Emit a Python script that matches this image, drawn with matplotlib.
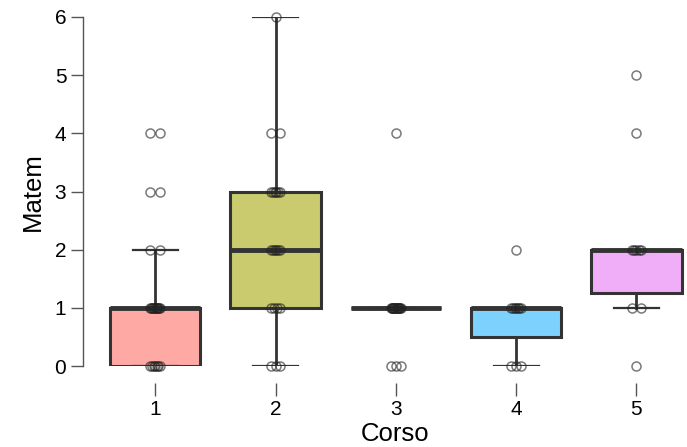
import matplotlib.pyplot as plt
import numpy as np

plt.rcParams['font.family'] = ['Liberation Sans', 'DejaVu Sans']

# scores per course
corso = [1, 2, 3, 4, 5]
matem_1 = [0] * 7 + [1] * 12 + [2] * 2 + [3] * 2 + [4] * 2
matem_2 = [0] * 3 + [1] * 4 + [2] * 6 + [3] * 6 + [4] * 2 + [6]
matem_3 = [0] * 3 + [1] * 15 + [4]
matem_4 = [0] * 3 + [1] * 7 + [2]
matem_5 = [0] + [1] * 2 + [2] * 5 + [4] + [5]
groups = [matem_1, matem_2, matem_3, matem_4, matem_5]
colors = ['#FFA9A5', '#C9CB6E', '#72D99C', '#7CD2FD', '#F1AEF8']

fig = plt.figure(figsize=(6.87, 4.47), dpi=100)
ax = fig.add_axes([83 / 687, 81 / 447, 604 / 687, 349 / 447])

bp = ax.boxplot(groups, positions=corso, widths=0.75, patch_artist=True,
                showfliers=False, capwidths=0.375, whis=1.5,
                boxprops=dict(edgecolor='#333333', linewidth=2.2),
                medianprops=dict(color='#333333', linewidth=3.5),
                whiskerprops=dict(color='#333333', linewidth=2),
                capprops=dict(color='#333333', linewidth=1.6))
for patch, c in zip(bp['boxes'], colors):
    patch.set_facecolor(c)

# jittered data points (fixed offsets, no randomness)
for pos, vals in zip(corso, groups):
    vals = np.array(vals)
    for v in np.unique(vals):
        k = np.sum(vals == v)
        offs = np.linspace(-0.04, 0.04, k) if k > 1 else np.array([0.0])
        ax.plot(pos + offs, [v] * k, 'o', ms=6.5, mfc='none', mec='#222222',
                mew=1.1, alpha=0.6, clip_on=False, zorder=5)

ax.set_xlim(0.4, 5.42)
ax.set_ylim(0, 6)
ax.set_xticks(corso)
ax.set_xticklabels([str(c) for c in corso])
ax.set_yticks(range(7))

for s in ['top', 'right']:
    ax.spines[s].set_visible(False)
ax.spines['left'].set_bounds(0, 6)
ax.spines['left'].set_linewidth(1.0)
ax.spines['left'].set_color('#555555')
ax.spines['bottom'].set_position(('outward', 12.2))
ax.spines['bottom'].set_visible(False)

ax.tick_params(axis='y', length=8.5, width=1.0, color='#555555', labelsize=15, pad=3.5)
ax.tick_params(axis='x', length=9, width=1.0, color='#555555', labelsize=15, pad=3.5)

ax.set_xlabel('Corso', fontsize=18.5, labelpad=2)
ax.xaxis.label.set_x(0.517)
ax.set_ylabel('Matem', fontsize=18.5, labelpad=7)

fig.savefig('out.png', dpi=100)
